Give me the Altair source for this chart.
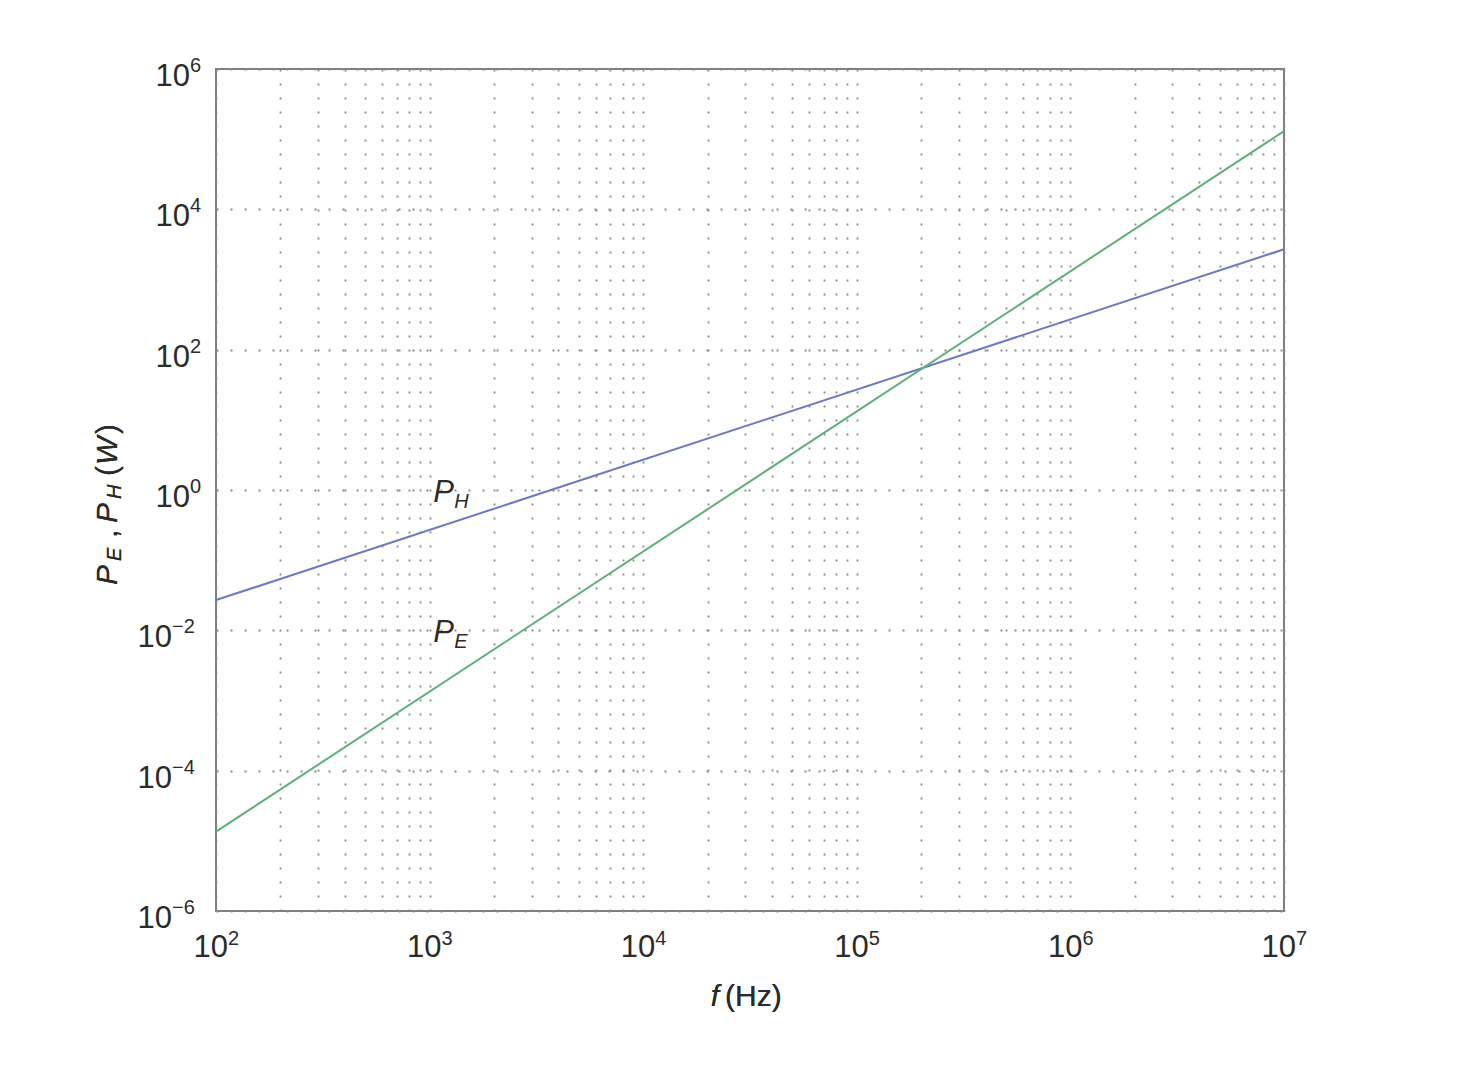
import altair as alt
import pandas as pd

# ---- data ----
freq = [1e2, 1e7]                 # f (Hz), line end points
p_h = [0.027, 2700.0]             # P_H (W)
p_e = [1.35e-5, 1.3e5]            # P_E (W)
series_names = ["P_H", "P_E"]

x_major = [1e2, 1e3, 1e4, 1e5, 1e6, 1e7]
x_exp = ["2", "3", "4", "5", "6", "7"]
y_major_pos = [1e0, 1e2, 1e4, 1e6]
y_exp_pos = ["0", "2", "4", "6"]
y_major_neg = [1e-6, 1e-4, 1e-2]
y_exp_neg = ["\u22126", "\u22124", "\u22122"]

label_f = [1040.0, 1040.0]
label_p = [0.67, 0.0068]
label_sub = ["H", "E"]

# ---- styling ----
W, H = 1068, 842
FONT = "Liberation Sans"
TXT = "#2b2b2b"
BLUE = "#6b79c6"
GREEN = "#5cb07a"

x_grid = [m * 10 ** d for d in range(2, 7) for m in range(1, 10)] + [1e7]

xs = alt.Scale(type="log", domain=[1e2, 1e7], nice=False)
ys = alt.Scale(type="log", domain=[1e-6, 1e6], nice=False)

grid_style = dict(labels=False, ticks=False, domain=False, title=None, grid=True,
                  gridDash=[2, 12], gridColor="#8a8a8a", gridWidth=1.8)
XAX = alt.Axis(values=x_grid, **grid_style)
YAX = alt.Axis(values=y_major_neg + y_major_pos, **grid_style)

rows = []
for f, h, e in zip(freq, p_h, p_e):
    rows.append({"f": f, "p": h, "s": series_names[0]})
    rows.append({"f": f, "p": e, "s": series_names[1]})
df = pd.DataFrame(rows)

lines = alt.Chart(df).mark_line(strokeWidth=2).encode(
    x=alt.X("f:Q", scale=xs, axis=XAX),
    y=alt.Y("p:Q", scale=ys, axis=YAX),
    color=alt.Color("s:N", scale=alt.Scale(domain=series_names, range=[BLUE, GREEN]), legend=None),
    detail="s:N",
)

layers = [lines]

# x tick labels
dxt = pd.DataFrame({"v": x_major, "b": ["10"] * len(x_major), "e": x_exp})
layers.append(alt.Chart(dxt).mark_text(align="right", baseline="alphabetic", dx=12, dy=46,
                                        fontSize=31, font=FONT, color=TXT).encode(
    x=alt.X("v:Q", scale=xs, axis=XAX), y=alt.value(H), text="b:N"))
layers.append(alt.Chart(dxt).mark_text(align="left", baseline="alphabetic", dx=12, dy=34,
                                        fontSize=20, font=FONT, color=TXT).encode(
    x=alt.X("v:Q", scale=xs, axis=XAX), y=alt.value(H), text="e:N"))

# y tick labels
for vals, exps, off in [(y_major_pos, y_exp_pos, -26), (y_major_neg, y_exp_neg, -44)]:
    d = pd.DataFrame({"v": vals, "b": ["10"] * len(vals), "e": exps})
    layers.append(alt.Chart(d).mark_text(align="right", baseline="middle", dx=off, dy=8,
                                          fontSize=31, font=FONT, color=TXT).encode(
        y=alt.Y("v:Q", scale=ys, axis=YAX), x=alt.value(0), text="b:N"))
    layers.append(alt.Chart(d).mark_text(align="left", baseline="middle", dx=off, dy=-3,
                                          fontSize=20, font=FONT, color=TXT).encode(
        y=alt.Y("v:Q", scale=ys, axis=YAX), x=alt.value(0), text="e:N"))

# series labels
dl = pd.DataFrame({"f": label_f, "p": label_p, "m": ["P", "P"], "sub": label_sub})
layers.append(alt.Chart(dl).mark_text(align="left", baseline="alphabetic", fontSize=31,
                                       fontStyle="italic", font=FONT, color=TXT).encode(
    x=alt.X("f:Q", scale=xs, axis=XAX), y=alt.Y("p:Q", scale=ys, axis=YAX), text="m:N"))
layers.append(alt.Chart(dl).mark_text(align="left", baseline="alphabetic", dx=21, dy=6, fontSize=20,
                                       fontStyle="italic", font=FONT, color=TXT).encode(
    x=alt.X("f:Q", scale=xs, axis=XAX), y=alt.Y("p:Q", scale=ys, axis=YAX), text="sub:N"))

# x axis title
layers.append(alt.Chart(dl).mark_text(text="f", align="right", baseline="alphabetic", fontSize=30,
                                       fontStyle="italic", font=FONT, color=TXT).encode(
    x=alt.value(503), y=alt.value(H + 95)))
layers.append(alt.Chart(dl).mark_text(text="(Hz)", align="left", baseline="alphabetic", fontSize=30,
                                       font=FONT, color=TXT).encode(
    x=alt.value(509), y=alt.value(H + 95)))

# y axis title (rotated pieces)
ytitle = [("P", 0, 0, 30, "italic"), ("E", 24, 4, 20, "italic"), (",", 47, 0, 30, "normal"),
          ("P", 62, 0, 30, "italic"), ("H", 86, 4, 20, "italic"), ("(", 109, 0, 30, "normal"),
          ("W", 120, 0, 30, "italic"), (")", 151, 0, 30, "normal")]
for t, ddx, ddy, fs, st in ytitle:
    layers.append(alt.Chart(dl).mark_text(text=t, align="left", baseline="alphabetic", angle=270,
                                           dx=ddx, dy=ddy, fontSize=fs, fontStyle=st,
                                           font=FONT, color=TXT).encode(
        x=alt.value(-99), y=alt.value(516)))

chart = alt.layer(*layers).properties(
    width=W, height=H,
    padding={"left": 208, "top": 61, "right": 150, "bottom": 140},
    autosize=alt.AutoSizeParams(type="none"),
    background="white",
).configure_view(stroke="#7f7f7f", strokeWidth=2)

chart.save("out.html", embed_options={"renderer": "svg", "actions": False})
